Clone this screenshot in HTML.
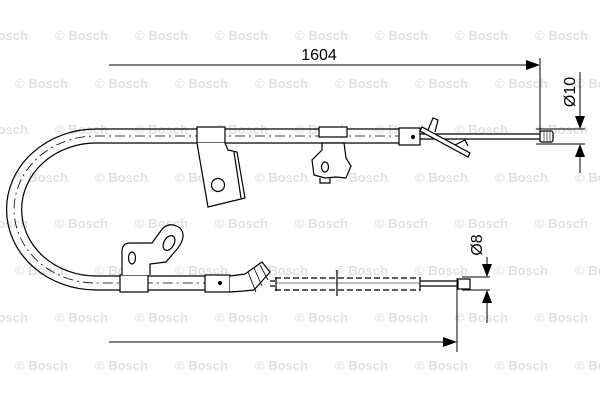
<!DOCTYPE html>
<html><head><meta charset="utf-8"><style>html,body{margin:0;padding:0;background:#fff}svg{display:block}</style></head>
<body>
<svg width="600" height="400" viewBox="0 0 600 400" xmlns="http://www.w3.org/2000/svg" font-family="Liberation Sans, sans-serif">
<g fill="#e2e2e2" font-size="13" font-weight="bold">
<text x="-25" y="40">© Bosch</text><text x="55" y="40">© Bosch</text><text x="135" y="40">© Bosch</text><text x="215" y="40">© Bosch</text><text x="295" y="40">© Bosch</text><text x="375" y="40">© Bosch</text><text x="455" y="40">© Bosch</text><text x="535" y="40">© Bosch</text>
<text x="15" y="88">© Bosch</text><text x="95" y="88">© Bosch</text><text x="175" y="88">© Bosch</text><text x="255" y="88">© Bosch</text><text x="335" y="88">© Bosch</text><text x="415" y="88">© Bosch</text><text x="495" y="88">© Bosch</text><text x="575" y="88">© Bosch</text>
<text x="-25" y="134">© Bosch</text><text x="55" y="134">© Bosch</text><text x="135" y="134">© Bosch</text><text x="215" y="134">© Bosch</text><text x="295" y="134">© Bosch</text><text x="375" y="134">© Bosch</text><text x="455" y="134">© Bosch</text><text x="535" y="134">© Bosch</text>
<text x="15" y="182">© Bosch</text><text x="95" y="182">© Bosch</text><text x="175" y="182">© Bosch</text><text x="255" y="182">© Bosch</text><text x="335" y="182">© Bosch</text><text x="415" y="182">© Bosch</text><text x="495" y="182">© Bosch</text><text x="575" y="182">© Bosch</text>
<text x="-25" y="228">© Bosch</text><text x="55" y="228">© Bosch</text><text x="135" y="228">© Bosch</text><text x="215" y="228">© Bosch</text><text x="295" y="228">© Bosch</text><text x="375" y="228">© Bosch</text><text x="455" y="228">© Bosch</text><text x="535" y="228">© Bosch</text>
<text x="15" y="275">© Bosch</text><text x="95" y="275">© Bosch</text><text x="175" y="275">© Bosch</text><text x="255" y="275">© Bosch</text><text x="335" y="275">© Bosch</text><text x="415" y="275">© Bosch</text><text x="495" y="275">© Bosch</text><text x="575" y="275">© Bosch</text>
<text x="-25" y="322">© Bosch</text><text x="55" y="322">© Bosch</text><text x="135" y="322">© Bosch</text><text x="215" y="322">© Bosch</text><text x="295" y="322">© Bosch</text><text x="375" y="322">© Bosch</text><text x="455" y="322">© Bosch</text><text x="535" y="322">© Bosch</text>
<text x="15" y="370">© Bosch</text><text x="95" y="370">© Bosch</text><text x="175" y="370">© Bosch</text><text x="255" y="370">© Bosch</text><text x="335" y="370">© Bosch</text><text x="415" y="370">© Bosch</text><text x="495" y="370">© Bosch</text><text x="575" y="370">© Bosch</text>
</g>
<g fill="none" stroke="#000" stroke-width="1.2">
<!-- cable sheath -->
<path d="M400 129 H96 A80 72 0 0 0 96 290 H205"/>
<path d="M400 143 H96 A66 59 0 0 0 96 276 H205"/>
<path d="M405 136 H96 A73 65.5 0 0 0 96 283 H230" stroke-dasharray="10 4 2 4" stroke-width="0.8"/>
<!-- top bracket -->
<rect x="197" y="127" width="28" height="16" fill="#fff"/>
<path d="M197 143 L208 207 L245 198 L237 152 L228 150 L225 143" fill="#fff"/>
<path d="M234 152 L241 198"/>
<circle cx="218" cy="185" r="6.5"/>
<!-- clip -->
<rect x="319" y="127" width="28" height="10" fill="#fff"/>
<path d="M322 143 H344 L346 158 L351 166 L346 178 L336 177 L325 178 L314 175 L312 160 L322 150 Z" fill="#fff"/>
<ellipse cx="325" cy="167" rx="3.5" ry="5"/>
<path d="M320 178 V183 H330 V178"/>
<!-- right fitting -->
<rect x="399" y="128" width="21" height="17" fill="#fff"/>
<circle cx="413" cy="137" r="1.5" fill="#000"/>
<path d="M420 134 H540 M420 139 H540"/>
<path d="M422 127 L470 153 L468 157 L420 131 Z" fill="#fff"/>
<path d="M428 130 L433 118 L438 120 L435 132"/>
<path d="M455 145 L465 140 L468 146"/>
<rect x="540" y="131" width="13" height="11" rx="2" fill="#fff"/>
<path d="M544 132 V141 M547 132 V141 M550 132 V141" stroke-width="0.6"/>
<!-- bottom bracket -->
<rect x="120" y="275" width="28" height="17" fill="#fff"/>
<path d="M122 275 V252 Q122 243 130 243 H152 L160 232 Q168 220 180 228 Q187 236 178 248 L166 262 L150 264 L150 275" fill="#fff"/>
<ellipse cx="132" cy="258" rx="3.5" ry="6"/>
<ellipse cx="169" cy="243" rx="5" ry="8" transform="rotate(30 169 243)"/>
<!-- bottom fitting -->
<rect x="205" y="275" width="25" height="17" fill="#fff"/>
<circle cx="220" cy="283" r="1.5" fill="#000"/>
<path d="M230 276 L245 274 L262 262 L270 272 L254 290 L244 291 L230 292" fill="#fff"/>
<path d="M248 272 L256 292 M254 268 L262 286 M260 265 L268 280" stroke-width="0.8"/>
<path d="M270 281 H275 M270 286 H275"/>
<path d="M275 278 H420 M275 290 H420" stroke-dasharray="6 3"/>
<path d="M276 277 V291 M420 277 V291"/>
<path d="M276 283 H420" stroke-width="0.6"/>
<path d="M337 270 V296" />
<path d="M420 281 H458 M420 286 H458"/>
<rect x="458" y="279" width="12" height="10" fill="#fff"/>
</g>
<!-- dimensions -->
<g stroke="#000" stroke-width="1" fill="none">
<path d="M109 65 H528"/>
<path d="M540 58 V142"/>
<path d="M536 129 H585 M536 144 H585"/>
<path d="M580 72 V118 M580 173 V155"/>
<path d="M109 342 H446"/>
<path d="M457 278 V352"/>
<path d="M462 277 H490 M462 290 H490"/>
<path d="M487 257 V266 M487 323 V301"/>
</g>
<g fill="#000">
<path d="M540 65 L526 60 L526 70 Z"/>
<path d="M580 129 L575 116 L585 116 Z"/>
<path d="M580 144 L575 157 L585 157 Z"/>
<path d="M457 342 L443 337 L443 347 Z"/>
<path d="M487 277 L482 264 L492 264 Z"/>
<path d="M487 290 L482 303 L492 303 Z"/>
</g>
<g font-size="16" fill="#000">
<text x="319" y="60" text-anchor="middle">1604</text>
<text transform="translate(575 92) rotate(-90)" text-anchor="middle">Ø10</text>
<text transform="translate(482 245) rotate(-90)" text-anchor="middle">Ø8</text>
</g>
</svg>
</body></html>
